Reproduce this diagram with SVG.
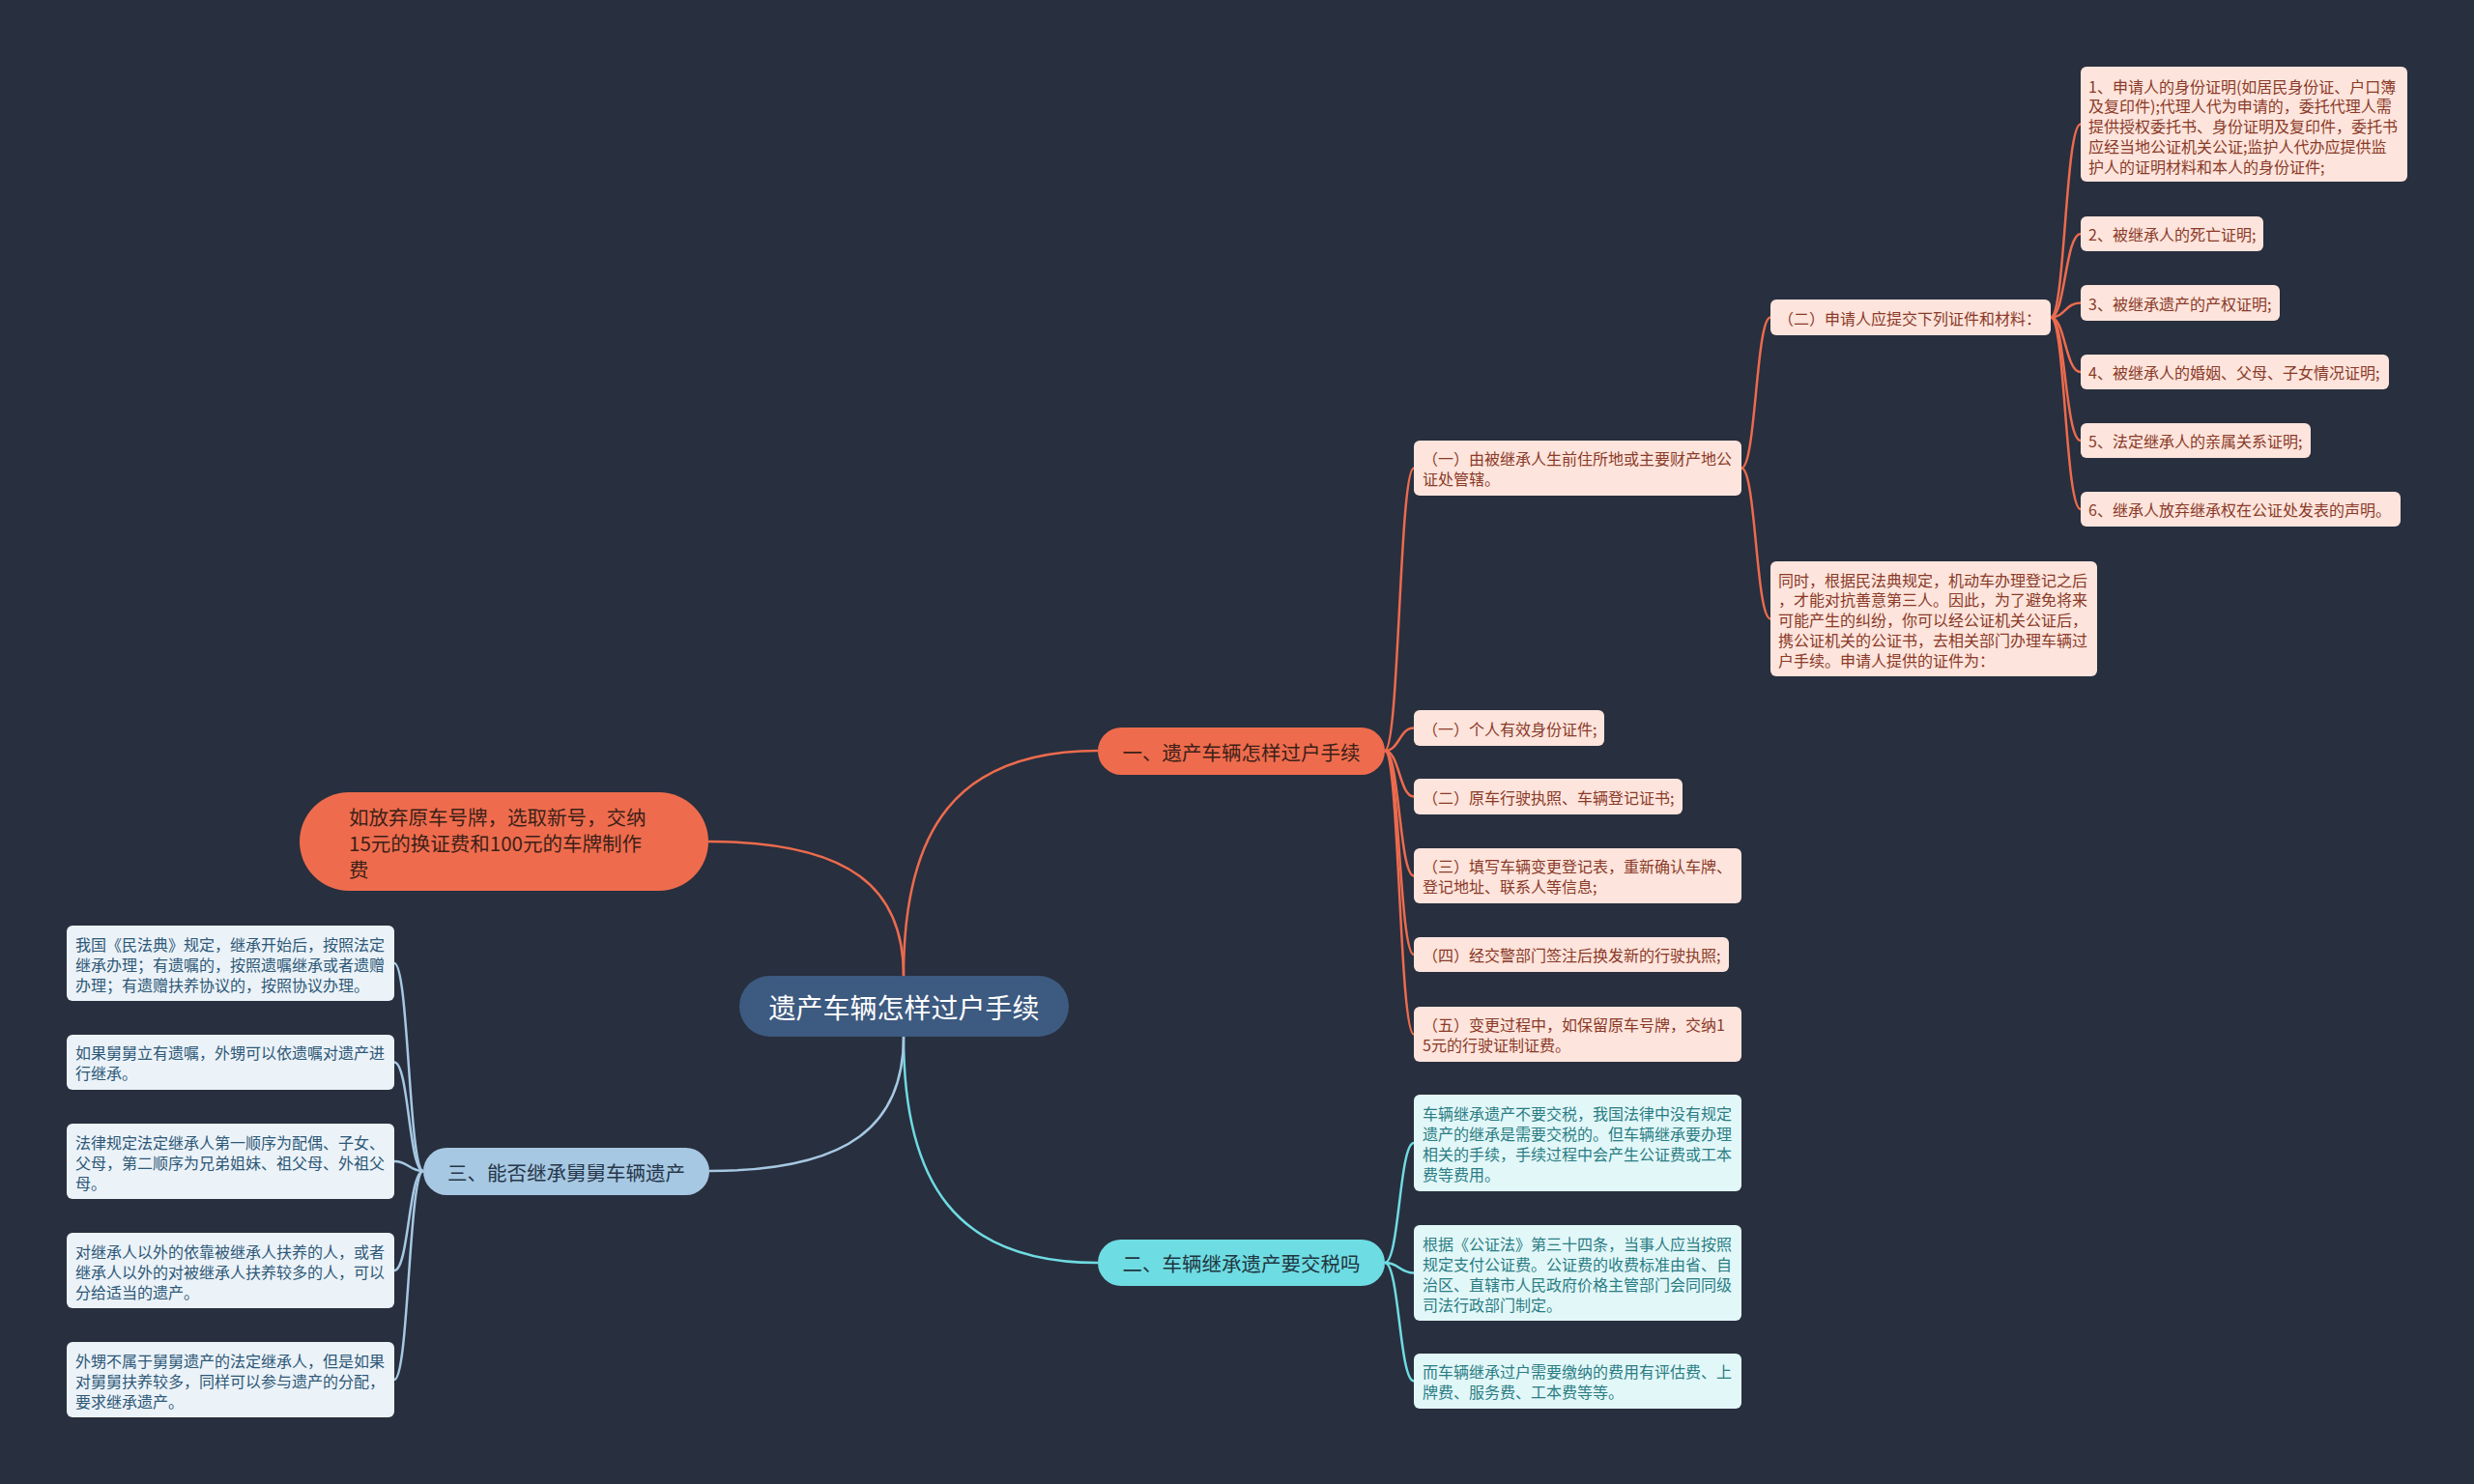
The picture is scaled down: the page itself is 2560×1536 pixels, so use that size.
<svg xmlns="http://www.w3.org/2000/svg" width="2560" height="1536" viewBox="0 0 2560 1536">
<style>
text{font-family:"Noto Sans CJK SC","Liberation Sans",sans-serif;dominant-baseline:central}
.o1{fill:#fde4dc}
.ot{fill:#8a3a28;font-size:16px}
.t1{fill:#e2f7f8}
.tt{fill:#2a7d84;font-size:16px}
.b1{fill:#ebf2f8}
.bt{fill:#2d5877;font-size:16px}
.lo{fill:none;stroke:#ec6b4e;stroke-width:2.5}
.lt{fill:none;stroke:#6fdbe2;stroke-width:2.5}
.lb{fill:none;stroke:#a6c8e2;stroke-width:2.5}
.main{font-size:20.5px}
</style>
<rect width="2560" height="1536" fill="#282f3e"/>
<g id="connectors">
<path class="lo" d="M935 1010 C935 859 989 777 1136 777"/>
<path class="lo" d="M935 1010 C935 920 881 871 733 871"/>
<path class="lt" d="M935 1073 C935 1224 989 1307 1136 1307"/>
<path class="lb" d="M935 1073 C935 1163 881 1212 734 1212"/>
<path class="lo" d="M1433 777 C1448 777 1448 484.5 1463 484.5"/>
<path class="lo" d="M1433 777 C1448 777 1448 753.5 1463 753.5"/>
<path class="lo" d="M1433 777 C1448 777 1448 824.5 1463 824.5"/>
<path class="lo" d="M1433 777 C1448 777 1448 906.5 1463 906.5"/>
<path class="lo" d="M1433 777 C1448 777 1448 988 1463 988"/>
<path class="lo" d="M1433 777 C1448 777 1448 1070.5 1463 1070.5"/>
<path class="lo" d="M1802 484.5 C1817 484.5 1817 328.5 1832 328.5"/>
<path class="lo" d="M1802 484.5 C1817 484.5 1817 640.5 1832 640.5"/>
<path class="lo" d="M2122 328.5 C2137 328.5 2137 128.5 2153 128.5"/>
<path class="lo" d="M2122 328.5 C2137 328.5 2137 242 2153 242"/>
<path class="lo" d="M2122 328.5 C2137 328.5 2137 313.5 2153 313.5"/>
<path class="lo" d="M2122 328.5 C2137 328.5 2137 385 2153 385"/>
<path class="lo" d="M2122 328.5 C2137 328.5 2137 456 2153 456"/>
<path class="lo" d="M2122 328.5 C2137 328.5 2137 527 2153 527"/>
<path class="lt" d="M1433 1307 C1448 1307 1448 1183 1463 1183"/>
<path class="lt" d="M1433 1307 C1448 1307 1448 1317.5 1463 1317.5"/>
<path class="lt" d="M1433 1307 C1448 1307 1448 1429.5 1463 1429.5"/>
<path class="lb" d="M438 1212 C423 1212 423 997 408 997"/>
<path class="lb" d="M438 1212 C423 1212 423 1099.5 408 1099.5"/>
<path class="lb" d="M438 1212 C423 1212 423 1202 408 1202"/>
<path class="lb" d="M438 1212 C423 1212 423 1315 408 1315"/>
<path class="lb" d="M438 1212 C423 1212 423 1428 408 1428"/>
</g>
<g id="root">
<rect x="765" y="1010" width="341" height="63" rx="31.5" fill="#3d5a80"/>
<text x="935.5" y="1041.5" text-anchor="middle" font-size="28" fill="#ffffff">遗产车辆怎样过户手续</text>
</g>
<g id="b1">
<rect x="1136" y="753" width="297" height="49" rx="24.5" fill="#ee6c4d"/>
<text class="main" x="1284.5" y="777.5" text-anchor="middle" fill="#3d2018">一、遗产车辆怎样过户手续</text>
</g>
<g id="b2">
<rect x="1136" y="1283" width="297" height="48" rx="24" fill="#6edce3"/>
<text class="main" x="1284.5" y="1307" text-anchor="middle" fill="#1f3640">二、车辆继承遗产要交税吗</text>
</g>
<g id="b3">
<rect x="438" y="1188" width="296" height="49" rx="24.5" fill="#a6c8e2"/>
<text class="main" x="586" y="1212.5" text-anchor="middle" fill="#26364a">三、能否继承舅舅车辆遗产</text>
</g>
<g id="b4">
<rect x="310" y="820" width="423" height="102" rx="51" fill="#ee6c4d"/>
<text class="main" fill="#3d2018"><tspan x="361" y="845">如放弃原车号牌，选取新号，交纳</tspan><tspan x="361" y="872">15元的换证费和100元的车牌制作</tspan><tspan x="361" y="899">费</tspan></text>
</g>
<g id="o-1">
<rect class="o1" x="1463" y="456" width="339" height="57" rx="6"/>
<text class="ot"><tspan x="1472" y="474">（一）由被继承人生前住所地或主要财产地公</tspan><tspan x="1472" y="495">证处管辖。</tspan></text>
</g>
<g id="o-2">
<rect class="o1" x="1463" y="735" width="197" height="37" rx="6"/>
<text class="ot" x="1472" y="753.5">（一）个人有效身份证件;</text>
</g>
<g id="o-3">
<rect class="o1" x="1463" y="806" width="278" height="37" rx="6"/>
<text class="ot" x="1472" y="824.5">（二）原车行驶执照、车辆登记证书;</text>
</g>
<g id="o-4">
<rect class="o1" x="1463" y="878" width="339" height="57" rx="6"/>
<text class="ot"><tspan x="1472" y="896">（三）填写车辆变更登记表，重新确认车牌、</tspan><tspan x="1472" y="917">登记地址、联系人等信息;</tspan></text>
</g>
<g id="o-5">
<rect class="o1" x="1463" y="970" width="326" height="36" rx="6"/>
<text class="ot" x="1472" y="988">（四）经交警部门签注后换发新的行驶执照;</text>
</g>
<g id="o-6">
<rect class="o1" x="1463" y="1042" width="339" height="57" rx="6"/>
<text class="ot"><tspan x="1472" y="1060">（五）变更过程中，如保留原车号牌，交纳1</tspan><tspan x="1472" y="1081">5元的行驶证制证费。</tspan></text>
</g>
<g id="o-7">
<rect class="o1" x="1832" y="310" width="290" height="37" rx="6"/>
<text class="ot" x="1840" y="328.5">（二）申请人应提交下列证件和材料：</text>
</g>
<g id="o-8">
<rect class="o1" x="1832" y="581" width="338" height="119" rx="6"/>
<text class="ot"><tspan x="1840" y="599.5">同时，根据民法典规定，机动车办理登记之后</tspan><tspan x="1840" y="620.3">，才能对抗善意第三人。因此，为了避免将来</tspan><tspan x="1840" y="641">可能产生的纠纷，你可以经公证机关公证后，</tspan><tspan x="1840" y="661.8">携公证机关的公证书，去相关部门办理车辆过</tspan><tspan x="1840" y="682.5">户手续。申请人提供的证件为：</tspan></text>
</g>
<g id="r-1">
<rect class="o1" x="2153" y="69" width="338" height="119" rx="6"/>
<text class="ot"><tspan x="2161" y="88.5">1、申请人的身份证明(如居民身份证、户口簿</tspan><tspan x="2161" y="109.3">及复印件);代理人代为申请的，委托代理人需</tspan><tspan x="2161" y="130">提供授权委托书、身份证明及复印件，委托书</tspan><tspan x="2161" y="150.8">应经当地公证机关公证;监护人代办应提供监</tspan><tspan x="2161" y="171.5">护人的证明材料和本人的身份证件;</tspan></text>
</g>
<g id="r-2">
<rect class="o1" x="2153" y="224" width="189" height="36" rx="6"/>
<text class="ot" x="2161" y="242">2、被继承人的死亡证明;</text>
</g>
<g id="r-3">
<rect class="o1" x="2153" y="295" width="206" height="37" rx="6"/>
<text class="ot" x="2161" y="313.5">3、被继承遗产的产权证明;</text>
</g>
<g id="r-4">
<rect class="o1" x="2153" y="367" width="319" height="36" rx="6"/>
<text class="ot" x="2161" y="385">4、被继承人的婚姻、父母、子女情况证明;</text>
</g>
<g id="r-5">
<rect class="o1" x="2153" y="438" width="238" height="36" rx="6"/>
<text class="ot" x="2161" y="456">5、法定继承人的亲属关系证明;</text>
</g>
<g id="r-6">
<rect class="o1" x="2153" y="509" width="331" height="36" rx="6"/>
<text class="ot" x="2161" y="527">6、继承人放弃继承权在公证处发表的声明。</text>
</g>
<g id="t-1">
<rect class="t1" x="1463" y="1133" width="339" height="100" rx="6"/>
<text class="tt"><tspan x="1472" y="1152">车辆继承遗产不要交税，我国法律中没有规定</tspan><tspan x="1472" y="1173">遗产的继承是需要交税的。但车辆继承要办理</tspan><tspan x="1472" y="1194">相关的手续，手续过程中会产生公证费或工本</tspan><tspan x="1472" y="1215">费等费用。</tspan></text>
</g>
<g id="t-2">
<rect class="t1" x="1463" y="1268" width="339" height="99" rx="6"/>
<text class="tt"><tspan x="1472" y="1286.5">根据《公证法》第三十四条，当事人应当按照</tspan><tspan x="1472" y="1307.5">规定支付公证费。公证费的收费标准由省、自</tspan><tspan x="1472" y="1328.5">治区、直辖市人民政府价格主管部门会同同级</tspan><tspan x="1472" y="1349.5">司法行政部门制定。</tspan></text>
</g>
<g id="t-3">
<rect class="t1" x="1463" y="1401" width="339" height="57" rx="6"/>
<text class="tt"><tspan x="1472" y="1419">而车辆继承过户需要缴纳的费用有评估费、上</tspan><tspan x="1472" y="1440">牌费、服务费、工本费等等。</tspan></text>
</g>
<g id="l-1">
<rect class="b1" x="69" y="958" width="339" height="78" rx="6"/>
<text class="bt"><tspan x="78" y="976.5">我国《民法典》规定，继承开始后，按照法定</tspan><tspan x="78" y="997.5">继承办理；有遗嘱的，按照遗嘱继承或者遗赠</tspan><tspan x="78" y="1018.5">办理；有遗赠扶养协议的，按照协议办理。</tspan></text>
</g>
<g id="l-2">
<rect class="b1" x="69" y="1071" width="339" height="57" rx="6"/>
<text class="bt"><tspan x="78" y="1089">如果舅舅立有遗嘱，外甥可以依遗嘱对遗产进</tspan><tspan x="78" y="1110">行继承。</tspan></text>
</g>
<g id="l-3">
<rect class="b1" x="69" y="1163" width="339" height="78" rx="6"/>
<text class="bt"><tspan x="78" y="1181.5">法律规定法定继承人第一顺序为配偶、子女、</tspan><tspan x="78" y="1202.5">父母，第二顺序为兄弟姐妹、祖父母、外祖父</tspan><tspan x="78" y="1223.5">母。</tspan></text>
</g>
<g id="l-4">
<rect class="b1" x="69" y="1276" width="339" height="78" rx="6"/>
<text class="bt"><tspan x="78" y="1294.5">对继承人以外的依靠被继承人扶养的人，或者</tspan><tspan x="78" y="1315.5">继承人以外的对被继承人扶养较多的人，可以</tspan><tspan x="78" y="1336.5">分给适当的遗产。</tspan></text>
</g>
<g id="l-5">
<rect class="b1" x="69" y="1389" width="339" height="78" rx="6"/>
<text class="bt"><tspan x="78" y="1407.5">外甥不属于舅舅遗产的法定继承人，但是如果</tspan><tspan x="78" y="1428.5">对舅舅扶养较多，同样可以参与遗产的分配，</tspan><tspan x="78" y="1449.5">要求继承遗产。</tspan></text>
</g>
</svg>
